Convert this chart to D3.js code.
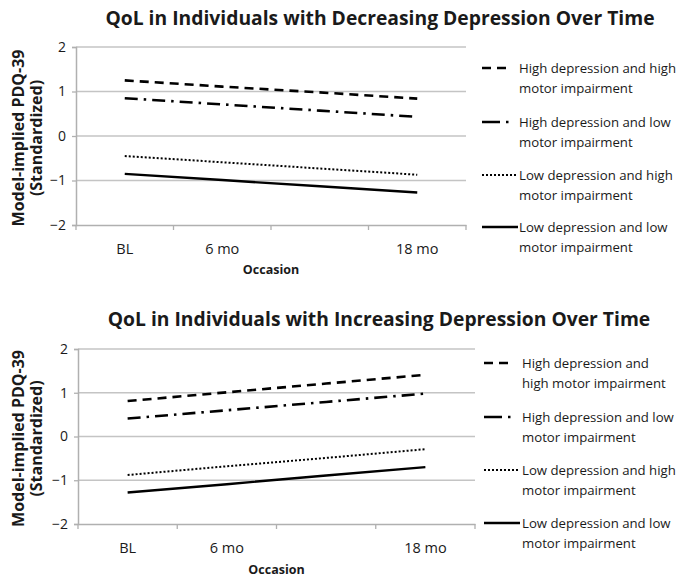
<!DOCTYPE html>
<html>
<head>
<meta charset="utf-8">
<script src="https://cdn.jsdelivr.net/npm/d3@7"></script>
<style>
  html, body { margin: 0; padding: 0; background: #fff; }
  svg { display: block; }
  text { font-family: "Open Sans", Carlito, Calibri, sans-serif; fill: #1a1a1a; }
</style>
</head>
<body>
<script>
// ---------- DATA ----------
const categories = ["BL", "6 mo", "", "18 mo"];
const yTicks = [-2, -1, 0, 1, 2];
const seriesNames = [
  "High depression and high motor impairment",
  "High depression and low motor impairment",
  "Low depression and high motor impairment",
  "Low depression and low motor impairment"
];
const legendLinesTop = [
  ["High depression and high", "motor impairment"],
  ["High depression and low", "motor impairment"],
  ["Low depression and high", "motor impairment"],
  ["Low depression and low", "motor impairment"]
];
const legendLinesBottom = [
  ["High depression and", "high motor impairment"],
  ["High depression and low", "motor impairment"],
  ["Low depression and high", "motor impairment"],
  ["Low depression and low", "motor impairment"]
];
// Decreasing depression panel
const decHighHigh = [1.25, 1.11, 0.98, 0.84];
const decHighLow  = [0.85, 0.71, 0.57, 0.43];
const decLowHigh  = [-0.45, -0.59, -0.73, -0.87];
const decLowLow   = [-0.85, -0.99, -1.13, -1.27];
// Increasing depression panel
const incHighHigh = [0.81, 1.01, 1.21, 1.41];
const incHighLow  = [0.41, 0.60, 0.79, 0.98];
const incLowHigh  = [-0.88, -0.68, -0.49, -0.29];
const incLowLow   = [-1.28, -1.09, -0.89, -0.70];

const titleTop = "QoL in Individuals with Decreasing Depression Over Time";
const titleBottom = "QoL in Individuals with Increasing Depression Over Time";

// ---------- STYLES ----------
const lineStyles = [
  { dash: "9,6", width: 2.6, legendDash: "9,6", legendLen: 28 },
  { dash: "13,6,2.5,6", width: 2.6, legendDash: "18,6,2.5,20", legendLen: 27 },
  { dash: "2,2", width: 2, legendDash: "2,2", legendLen: 34 },
  { dash: null, width: 2.4, legendDash: null, legendLen: 36 }
];

const W = 687, H = 586;
const svg = d3.select("body").append("svg").attr("width", W).attr("height", H);
svg.append("rect").attr("width", W).attr("height", H).attr("fill", "#fff");

function drawPanel(p) {
  const g = svg.append("g");
  const x = d3.scaleBand().domain(categories).range([p.x0, p.x1]).padding(0);
  const y = d3.scaleLinear().domain([-2, 2]).range([p.yb, p.yt]);

  // title
  g.append("text").attr("x", p.titleX).attr("y", p.titleY)
    .attr("text-anchor", "middle").attr("font-size", 19.3).attr("font-weight", "bold")
    .text(p.title);

  // gridlines
  g.selectAll("line.grid").data(yTicks.filter(t => t !== -2)).enter().append("line")
    .attr("x1", p.x0).attr("x2", p.x1)
    .attr("y1", d => y(d)).attr("y2", d => y(d))
    .attr("stroke", "#c4c4c4").attr("stroke-width", 1.3);

  // y axis
  const yAxis = d3.axisLeft(y).tickValues(yTicks).tickSize(4).tickPadding(6).tickFormat(d3.format("d"));
  const ya = g.append("g").attr("transform", `translate(${p.x0},0)`).call(yAxis);
  ya.select(".domain").attr("stroke", "#b0b0b0").attr("stroke-width", 1.5);
  ya.selectAll(".tick line").attr("stroke", "#b0b0b0").attr("stroke-width", 1.3);
  ya.selectAll(".tick text").attr("font-size", 14).attr("font-family", "'Open Sans', sans-serif").attr("fill", "#1a1a1a");

  // x axis (labels at band centres, ticks at band boundaries)
  const xAxis = d3.axisBottom(x).tickSize(0).tickPadding(p.xPad);
  const xa = g.append("g").attr("transform", `translate(0,${p.yb})`).call(xAxis);
  xa.select(".domain").attr("stroke", "#b0b0b0").attr("stroke-width", 1.5);
  xa.selectAll(".tick text").attr("font-size", 14.5).attr("font-family", "'Open Sans', sans-serif").attr("fill", "#1a1a1a");
  const bounds = categories.map(c => x(c)).concat([p.x1]);
  g.selectAll("line.xt").data(bounds).enter().append("line")
    .attr("x1", d => d).attr("x2", d => d)
    .attr("y1", p.yb).attr("y2", p.yb + 5)
    .attr("stroke", "#b0b0b0").attr("stroke-width", 1.3);

  // axis titles
  g.append("text").attr("x", (p.x0 + p.x1) / 2).attr("y", p.xTitleY)
    .attr("text-anchor", "middle").attr("font-size", 12.5).attr("font-weight", "bold").text("Occasion");
  const yc = (p.yt + p.yb) / 2 + 2;
  g.append("text").attr("transform", `translate(24,${yc}) rotate(-90)`)
    .attr("text-anchor", "middle").attr("font-size", 16).attr("font-weight", "bold").text("Model-implied PDQ-39");
  g.append("text").attr("transform", `translate(42,${yc}) rotate(-90)`)
    .attr("text-anchor", "middle").attr("font-size", 16).attr("font-weight", "bold").text("(Standardized)");

  // lines
  const line = d3.line().x((d, i) => x(categories[i]) + x.bandwidth() / 2).y(d => y(d));
  p.series.forEach((s, i) => {
    const st = lineStyles[i];
    g.append("path").datum(s).attr("d", line)
      .attr("fill", "none").attr("stroke", "#000").attr("stroke-width", st.width)
      .attr("stroke-dasharray", st.dash);
  });

  // legend
  p.legend.forEach((lines, i) => {
    const st = lineStyles[i];
    const cy = p.legY[i];
    g.append("line").attr("x1", p.legSymX).attr("x2", p.legSymX + st.legendLen)
      .attr("y1", cy).attr("y2", cy)
      .attr("stroke", "#000").attr("stroke-width", st.width)
      .attr("stroke-dasharray", st.legendDash);
    lines.forEach((t, k) => {
      g.append("text").attr("x", p.legTextX).attr("y", cy + 5 + k * 20)
        .attr("font-size", 13.2).text(t);
    });
  });
}

drawPanel({
  title: titleTop, titleX: 380, titleY: 25,
  x0: 76, x1: 466, yt: 47, yb: 225, xPad: 19, xTitleY: 274,
  series: [decHighHigh, decHighLow, decLowHigh, decLowLow],
  legend: legendLinesTop, legY: [68, 122, 175, 227],
  legSymX: 482, legTextX: 519
});
drawPanel({
  title: titleBottom, titleX: 379, titleY: 326,
  x0: 78, x1: 475, yt: 349, yb: 524, xPad: 19, xTitleY: 574,
  series: [incHighHigh, incHighLow, incLowHigh, incLowLow],
  legend: legendLinesBottom, legY: [363, 417, 470, 523],
  legSymX: 484, legTextX: 522
});
</script>
</body>
</html>
